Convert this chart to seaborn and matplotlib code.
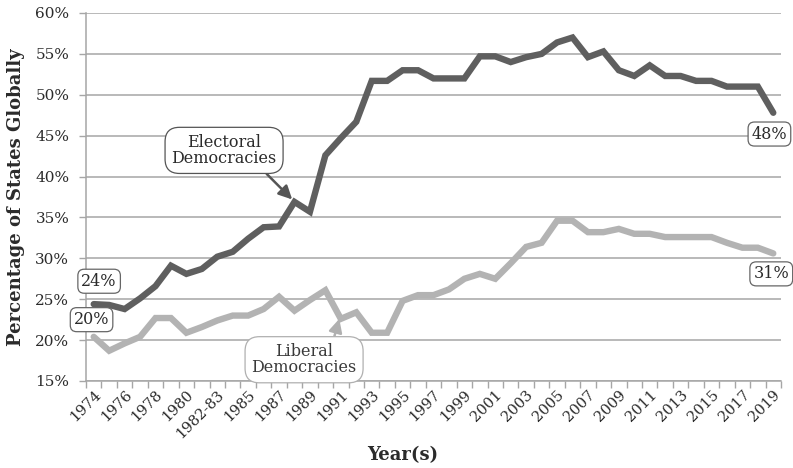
import matplotlib
matplotlib.use("Agg")
import matplotlib.pyplot as plt
import seaborn as sns
import pandas as pd
import numpy as np
from matplotlib.ticker import FuncFormatter, FixedLocator

years = ["1974", "1975", "1976", "1977", "1978", "1979", "1980", "1981", "1982-83",
         "1984", "1985", "1986", "1987", "1988", "1989", "1990", "1991", "1992",
         "1993", "1994", "1995", "1996", "1997", "1998", "1999", "2000", "2001",
         "2002", "2003", "2004", "2005", "2006", "2007", "2008", "2009", "2010",
         "2011", "2012", "2013", "2014", "2015", "2016", "2017", "2018", "2019"]

electoral = [24.4, 24.3, 23.8, 25.1, 26.6, 29.1, 28.1, 28.7, 30.2, 30.8, 32.4, 33.8,
             33.9, 36.9, 35.7, 42.6, 44.7, 46.7, 51.7, 51.7, 53.0, 53.0, 52.0, 52.0,
             52.0, 54.7, 54.7, 54.0, 54.6, 55.0, 56.4, 57.0, 54.6, 55.3, 53.0, 52.3,
             53.6, 52.3, 52.3, 51.7, 51.7, 51.0, 51.0, 51.0, 47.8]

liberal = [20.4, 18.7, 19.6, 20.4, 22.7, 22.7, 20.9, 21.6, 22.4, 23.0, 23.0, 23.8,
           25.3, 23.6, 24.9, 26.1, 22.6, 23.4, 20.9, 20.9, 24.8, 25.5, 25.5, 26.2,
           27.5, 28.1, 27.5, 29.4, 31.4, 31.9, 34.6, 34.6, 33.2, 33.2, 33.6, 33.0,
           33.0, 32.6, 32.6, 32.6, 32.6, 31.9, 31.3, 31.3, 30.6]

series_names = ["Electoral Democracies", "Liberal Democracies"]
end_labels = ["48%", "31%"]
start_labels = ["24%", "20%"]

sns.set_theme(style="white")
plt.rcParams["font.family"] = ["DejaVu Serif"]

idx = np.arange(len(years))
df = pd.DataFrame({
    "idx": np.concatenate([idx, idx]),
    "value": electoral + liberal,
    "series": [series_names[0]] * len(years) + [series_names[1]] * len(years),
})

dark = "#5f5f5f"
light = "#b3b3b3"
grid_c = "#a6a6a6"
text_c = "#2b2b2b"

fig = plt.figure(figsize=(7.93, 4.68), dpi=100)
ax = fig.add_axes([86 / 793, 1 - 381 / 468, (781 - 86) / 793, (381 - 13) / 468])

sns.lineplot(data=df, x="idx", y="value", hue="series",
             palette={series_names[0]: dark, series_names[1]: light},
             linewidth=4.6, legend=False, ax=ax, zorder=3)
for line in ax.lines:
    line.set_solid_capstyle("round")
    line.set_solid_joinstyle("miter")

ax.set_xlim(-0.5, len(years) - 0.5)
ax.set_ylim(15, 60)
ax.set_yticks(np.arange(15, 61, 5))
ax.yaxis.set_major_formatter(FuncFormatter(lambda v, p: f"{int(v)}%"))
ax.yaxis.grid(True, color=grid_c, linewidth=1.1)
ax.set_axisbelow(True)

ax.xaxis.set_major_locator(FixedLocator(idx[::2]))
ax.set_xticklabels(years[::2], rotation=45, ha="right", rotation_mode="anchor")
ax.xaxis.set_minor_locator(FixedLocator(np.arange(-0.5, len(years), 1.0)))
ax.tick_params(axis="x", which="major", length=0, pad=5, labelsize=10.6, labelcolor=text_c)
ax.tick_params(axis="x", which="minor", length=5, width=1, color=grid_c, direction="out", bottom=True)
ax.tick_params(axis="y", which="major", length=5, width=1, color=grid_c, left=True,
               labelsize=11, labelcolor=text_c, pad=7)

for s in ["top", "right"]:
    ax.spines[s].set_visible(False)
for s in ["left", "bottom"]:
    ax.spines[s].set_color(grid_c)
    ax.spines[s].set_linewidth(1.1)

ax.set_xlabel("")
ax.set_ylabel("Percentage of States Globally", fontsize=13, fontweight="bold", color=text_c)
ax.yaxis.set_label_coords(-0.088, 0.5)
fig.text(403 / 793, 1 - 455 / 468, "Year(s)", fontsize=13, fontweight="bold",
         color=text_c, ha="center", va="center")

vbox = dict(boxstyle="round,pad=0.22,rounding_size=0.4", fc="white", ec="#666666", lw=0.9)
ax.text(0.35, 27.2, start_labels[0], fontsize=11.5, color=text_c, ha="center", va="center", bbox=vbox, zorder=5)
ax.text(-0.14, 22.5, start_labels[1], fontsize=11.5, color=text_c, ha="center", va="center", bbox=vbox, zorder=5)
ax.text(43.75, 45.2, end_labels[0], fontsize=11.5, color=text_c, ha="center", va="center", bbox=vbox, zorder=5)
ax.text(43.87, 28.1, end_labels[1], fontsize=11.5, color=text_c, ha="center", va="center", bbox=vbox, zorder=5)

ax.annotate("Electoral\nDemocracies", xy=(12.85, 37.2), xytext=(8.44, 43.2),
            fontsize=11.5, color=text_c, ha="center", va="center", linespacing=0.95,
            bbox=dict(boxstyle="round,pad=0.4,rounding_size=0.9", fc="white", ec="#555555", lw=0.9),
            arrowprops=dict(arrowstyle="-|>,head_length=0.7,head_width=0.35", color="#555555",
                            lw=1.8, relpos=(0.84, 0.0), shrinkA=0, shrinkB=0),
            zorder=6)
ax.annotate("Liberal\nDemocracies", xy=(15.9, 22.6), xytext=(13.62, 17.6),
            fontsize=11.5, color="#3a3a3a", ha="center", va="center", linespacing=0.95,
            bbox=dict(boxstyle="round,pad=0.4,rounding_size=0.9", fc="white", ec="#b0b0b0", lw=0.9),
            arrowprops=dict(arrowstyle="-|>,head_length=0.7,head_width=0.35", color="#b0b0b0",
                            lw=1.8, relpos=(0.77, 1.0), shrinkA=0, shrinkB=0),
            zorder=6)

fig.savefig("out.png", dpi=100)
